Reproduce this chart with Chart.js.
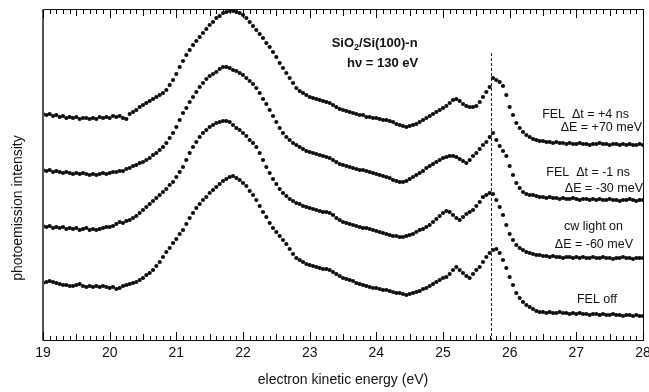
<!DOCTYPE html>
<html>
<head>
<meta charset="utf-8">
<script src="https://cdn.jsdelivr.net/npm/chart.js@4.4.0/dist/chart.umd.min.js"></script>
<style>
  html, body { margin: 0; padding: 0; background: #fff; }
  canvas { display: block; }
</style>
</head>
<body>
<canvas id="spectra" width="649" height="392"></canvas>
<script>
// one point every 0.05 eV, from 19 to 28 eV
const energyStart = 19;
const energyStep = 0.05;
const energyTicks = [19, 20, 21, 22, 23, 24, 25, 26, 27, 28];

// intensities (arbitrary units, curves already offset as in the figure)
const felPlus4ns = [
  226,225,226,224,225,223,224,222,223,222,223,221,222,222,221,222,221,223,222,223,
  222,224,223,224,222,221,226,228,230,233,235,237,239,241,243,245,247,250,255,260,
  266,273,279,285,290,295,299,303,307,311,315,318,322,324,327,328,329,329,328,327,
  325,322,318,314,310,306,302,297,293,288,283,277,272,267,262,257,252,249,247,245,
  243,242,241,240,239,238,237,235,233,231,230,229,228,227,226,225,225,223,223,222,
  222,221,220,220,219,218,216,215,214,213,214,215,216,218,220,222,224,226,228,230,
  232,234,237,240,241,239,236,234,233,233,234,238,243,248,253,262,260,258,254,245,
  233,225,217,212,208,205,203,201,200,199,199,198,198,197,198,197,197,196,197,196,
  196,197,196,196,195,196,196,197,196,196,195,196,196,195,196,195,196,195,195,196,
  195
];
const felMinus1ns = [
  170,169,170,168,169,168,167,168,167,166,167,166,167,166,165,166,165,166,167,166,
  167,168,168,169,169,171,172,174,175,177,178,180,182,185,187,190,193,197,202,207,
  213,220,227,232,238,243,248,253,257,261,264,266,268,271,273,273,272,270,269,267,
  265,262,259,256,252,247,241,236,230,224,218,212,207,203,200,197,195,193,191,189,
  188,187,186,185,184,183,182,180,178,176,175,174,173,172,171,170,170,169,168,167,
  166,165,164,163,162,160,159,158,158,159,161,163,165,167,169,172,174,176,178,180,
  182,183,184,184,183,181,179,177,180,184,187,191,195,198,203,207,200,194,189,184,
  174,165,157,152,148,146,145,145,144,143,143,142,143,142,142,141,142,141,141,142,
  141,140,141,141,140,141,140,141,140,140,141,140,140,139,140,140,141,140,139,140,
  140
];
const cwLightOn = [
  114,113,114,112,113,112,113,111,112,111,112,110,111,112,110,111,110,111,112,113,
  113,114,116,118,117,119,120,122,124,127,130,133,136,139,142,145,148,151,155,158,
  163,168,173,180,187,193,198,203,207,210,213,215,217,218,219,219,218,215,212,210,
  207,204,200,197,193,187,180,173,167,161,156,151,147,144,141,139,137,136,134,133,
  132,131,130,129,128,128,127,125,122,120,118,117,116,115,114,113,112,112,111,110,
  109,108,107,106,105,104,104,103,103,104,105,106,108,110,111,113,115,118,121,124,
  127,129,128,125,122,120,123,126,128,130,134,138,143,145,147,146,140,133,125,115,
  106,100,95,92,90,88,87,86,85,85,84,84,83,84,83,83,82,83,83,82,
  83,82,83,82,82,83,82,82,83,82,82,81,82,82,83,82,82,81,82,82,
  82
];
const felOff = [
  57,58,59,58,57,56,55,55,54,54,55,56,54,53,54,53,54,53,54,53,
  52,53,51,52,54,55,56,57,58,60,62,65,67,70,74,78,83,88,92,97,
  101,106,110,116,122,127,132,136,140,143,147,150,153,156,159,161,163,164,162,160,
  157,154,149,145,140,134,128,123,117,112,108,104,100,96,91,86,82,80,78,76,
  75,74,73,72,71,71,70,68,66,64,62,61,60,59,57,56,55,54,53,52,
  52,51,50,50,49,48,47,47,46,45,46,47,48,49,51,52,54,56,58,60,
  62,63,66,70,73,70,67,64,62,66,70,73,78,83,87,90,91,87,80,72,
  63,55,47,42,38,35,33,31,29,28,28,27,28,27,27,28,27,27,26,27,
  26,27,26,26,25,26,26,25,26,25,25,26,25,25,24,25,25,24,25,24,
  24
];

// dashed marker (energy) and where it starts (intensity)
const markerEnergy = 25.72;
const markerTop = 287;

// text in the plot, placed in data units
const notes = [
  { parts: [['SiO', 0], ['2', 1], ['/Si(100)-n', 0]], x: 23.33, y: 297, align: 'left', bold: true },
  { parts: [['h\u03bd = 130 eV', 0]], x: 23.56, y: 277, align: 'left', bold: true },
  { parts: [['FEL  \u0394t = +4 ns', 0]], x: 27.79, y: 225, align: 'right' },
  { parts: [['\u0394E = +70 meV', 0]], x: 27.985, y: 212, align: 'right' },
  { parts: [['FEL  \u0394t = -1 ns', 0]], x: 27.805, y: 167, align: 'right' },
  { parts: [['\u0394E = -30 meV', 0]], x: 28.0, y: 151, align: 'right' },
  { parts: [['cw light on', 0]], x: 27.70, y: 113, align: 'right' },
  { parts: [['\u0394E = -60 meV', 0]], x: 27.85, y: 95, align: 'right' },
  { parts: [['FEL off', 0]], x: 27.61, y: 40, align: 'right' }
];

const fontFamily = '"Liberation Sans", Arial, Helvetica, sans-serif';
Chart.defaults.font.family = fontFamily;
Chart.defaults.color = '#111';

function toPoints(values) {
  return values.map((v, i) => ({ x: energyStart + i * energyStep, y: v }));
}

function curve(label, values) {
  return {
    label: label,
    data: toPoints(values),
    showLine: false,
    pointRadius: 2.1,
    pointHoverRadius: 0,
    pointBorderWidth: 0,
    pointBackgroundColor: '#0d0d0d',
    borderColor: '#0d0d0d'
  };
}

// frame, inward ticks, dashed line, text
const decorations = {
  id: 'decorations',
  afterDraw(chart) {
    const { ctx, chartArea: a, scales: { x, y } } = chart;
    ctx.save();

    // dashed line
    const xd = Math.round(x.getPixelForValue(markerEnergy)) + 0.5;
    ctx.strokeStyle = '#222';
    ctx.lineWidth = 1;
    ctx.setLineDash([3, 2]);
    ctx.beginPath();
    ctx.moveTo(xd, y.getPixelForValue(markerTop));
    ctx.lineTo(xd, a.bottom);
    ctx.stroke();
    ctx.setLineDash([]);

    // box
    const left = Math.round(a.left), right = Math.round(a.right);
    const top = Math.round(a.top), bottom = Math.round(a.bottom);
    ctx.fillStyle = '#111';
    ctx.fillRect(left, top, right - left + 1, 1);
    ctx.fillRect(left, bottom, right - left + 1, 1);
    ctx.fillRect(right, top, 1, bottom - top + 1);
    ctx.fillStyle = '#555';
    ctx.fillRect(left - 1, top, 2, bottom - top + 1);

    // ticks every 0.1 eV, top and bottom, pointing in
    ctx.fillStyle = '#000';
    const first = energyTicks[0], last = energyTicks[energyTicks.length - 1];
    const count = Math.round((last - first) * 10);
    for (let i = 0; i <= count; i++) {
      const px = Math.round(x.getPixelForValue(first + i / 10));
      const len = i % 10 === 0 ? 8 : (i % 5 === 0 ? 6 : 4);
      ctx.fillRect(px, bottom - len, 1, len);
      ctx.fillRect(px, top + 1, 1, len);
    }

    // y title
    ctx.fillStyle = '#111';
    ctx.font = '14px ' + fontFamily;
    ctx.textAlign = 'center';
    ctx.textBaseline = 'middle';
    ctx.translate(18, 208);
    ctx.rotate(-Math.PI / 2);
    ctx.fillText('photoemission intensity', 0, 0);
    ctx.setTransform(1, 0, 0, 1, 0, 0);

    // notes
    notes.forEach(n => {
      const size = n.bold ? 13 : 12.5;
      const weight = n.bold ? 'bold ' : '';
      let total = 0;
      n.parts.forEach(([t, sub]) => {
        ctx.font = weight + (sub ? size * 0.7 : size) + 'px ' + fontFamily;
        total += ctx.measureText(t).width;
      });
      let px = x.getPixelForValue(n.x);
      if (n.align === 'right') px -= total;
      const py = y.getPixelForValue(n.y);
      ctx.textAlign = 'left';
      ctx.textBaseline = 'middle';
      n.parts.forEach(([t, sub]) => {
        ctx.font = weight + (sub ? size * 0.7 : size) + 'px ' + fontFamily;
        ctx.fillText(t, px, sub ? py + 4 : py);
        px += ctx.measureText(t).width;
      });
    });

    ctx.restore();
  }
};

new Chart(document.getElementById('spectra'), {
  type: 'scatter',
  data: {
    datasets: [
      curve('FEL \u0394t = +4 ns', felPlus4ns),
      curve('FEL \u0394t = -1 ns', felMinus1ns),
      curve('cw light on', cwLightOn),
      curve('FEL off', felOff)
    ]
  },
  options: {
    responsive: false,
    animation: false,
    devicePixelRatio: 1,
    layout: { padding: { left: 0, top: 9, right: 6, bottom: 0 } },
    plugins: {
      legend: { display: false },
      tooltip: { enabled: false }
    },
    scales: {
      x: {
        type: 'linear',
        position: 'bottom',
        min: energyTicks[0],
        max: energyTicks[energyTicks.length - 1],
        afterBuildTicks: (scale) => {
          scale.ticks = energyTicks.map(v => ({ value: v }));
        },
        afterFit: (scale) => {
          scale.height = 52;
          scale.paddingLeft = 0;
          scale.paddingRight = 0;
        },
        grid: { display: false, drawTicks: false },
        border: { display: false },
        ticks: {
          autoSkip: false,
          maxRotation: 0,
          padding: 5,
          color: '#111',
          font: { size: 14 }
        },
        title: {
          display: true,
          text: 'electron kinetic energy (eV)',
          color: '#111',
          font: { size: 14 },
          padding: { top: 0, bottom: 3 }
        }
      },
      y: {
        min: 0,
        max: 331,
        afterFit: (scale) => {
          scale.width = 43;
        },
        grid: { display: false, drawTicks: false },
        border: { display: false },
        ticks: { display: false }
      }
    }
  },
  plugins: [decorations]
});
</script>
</body>
</html>
